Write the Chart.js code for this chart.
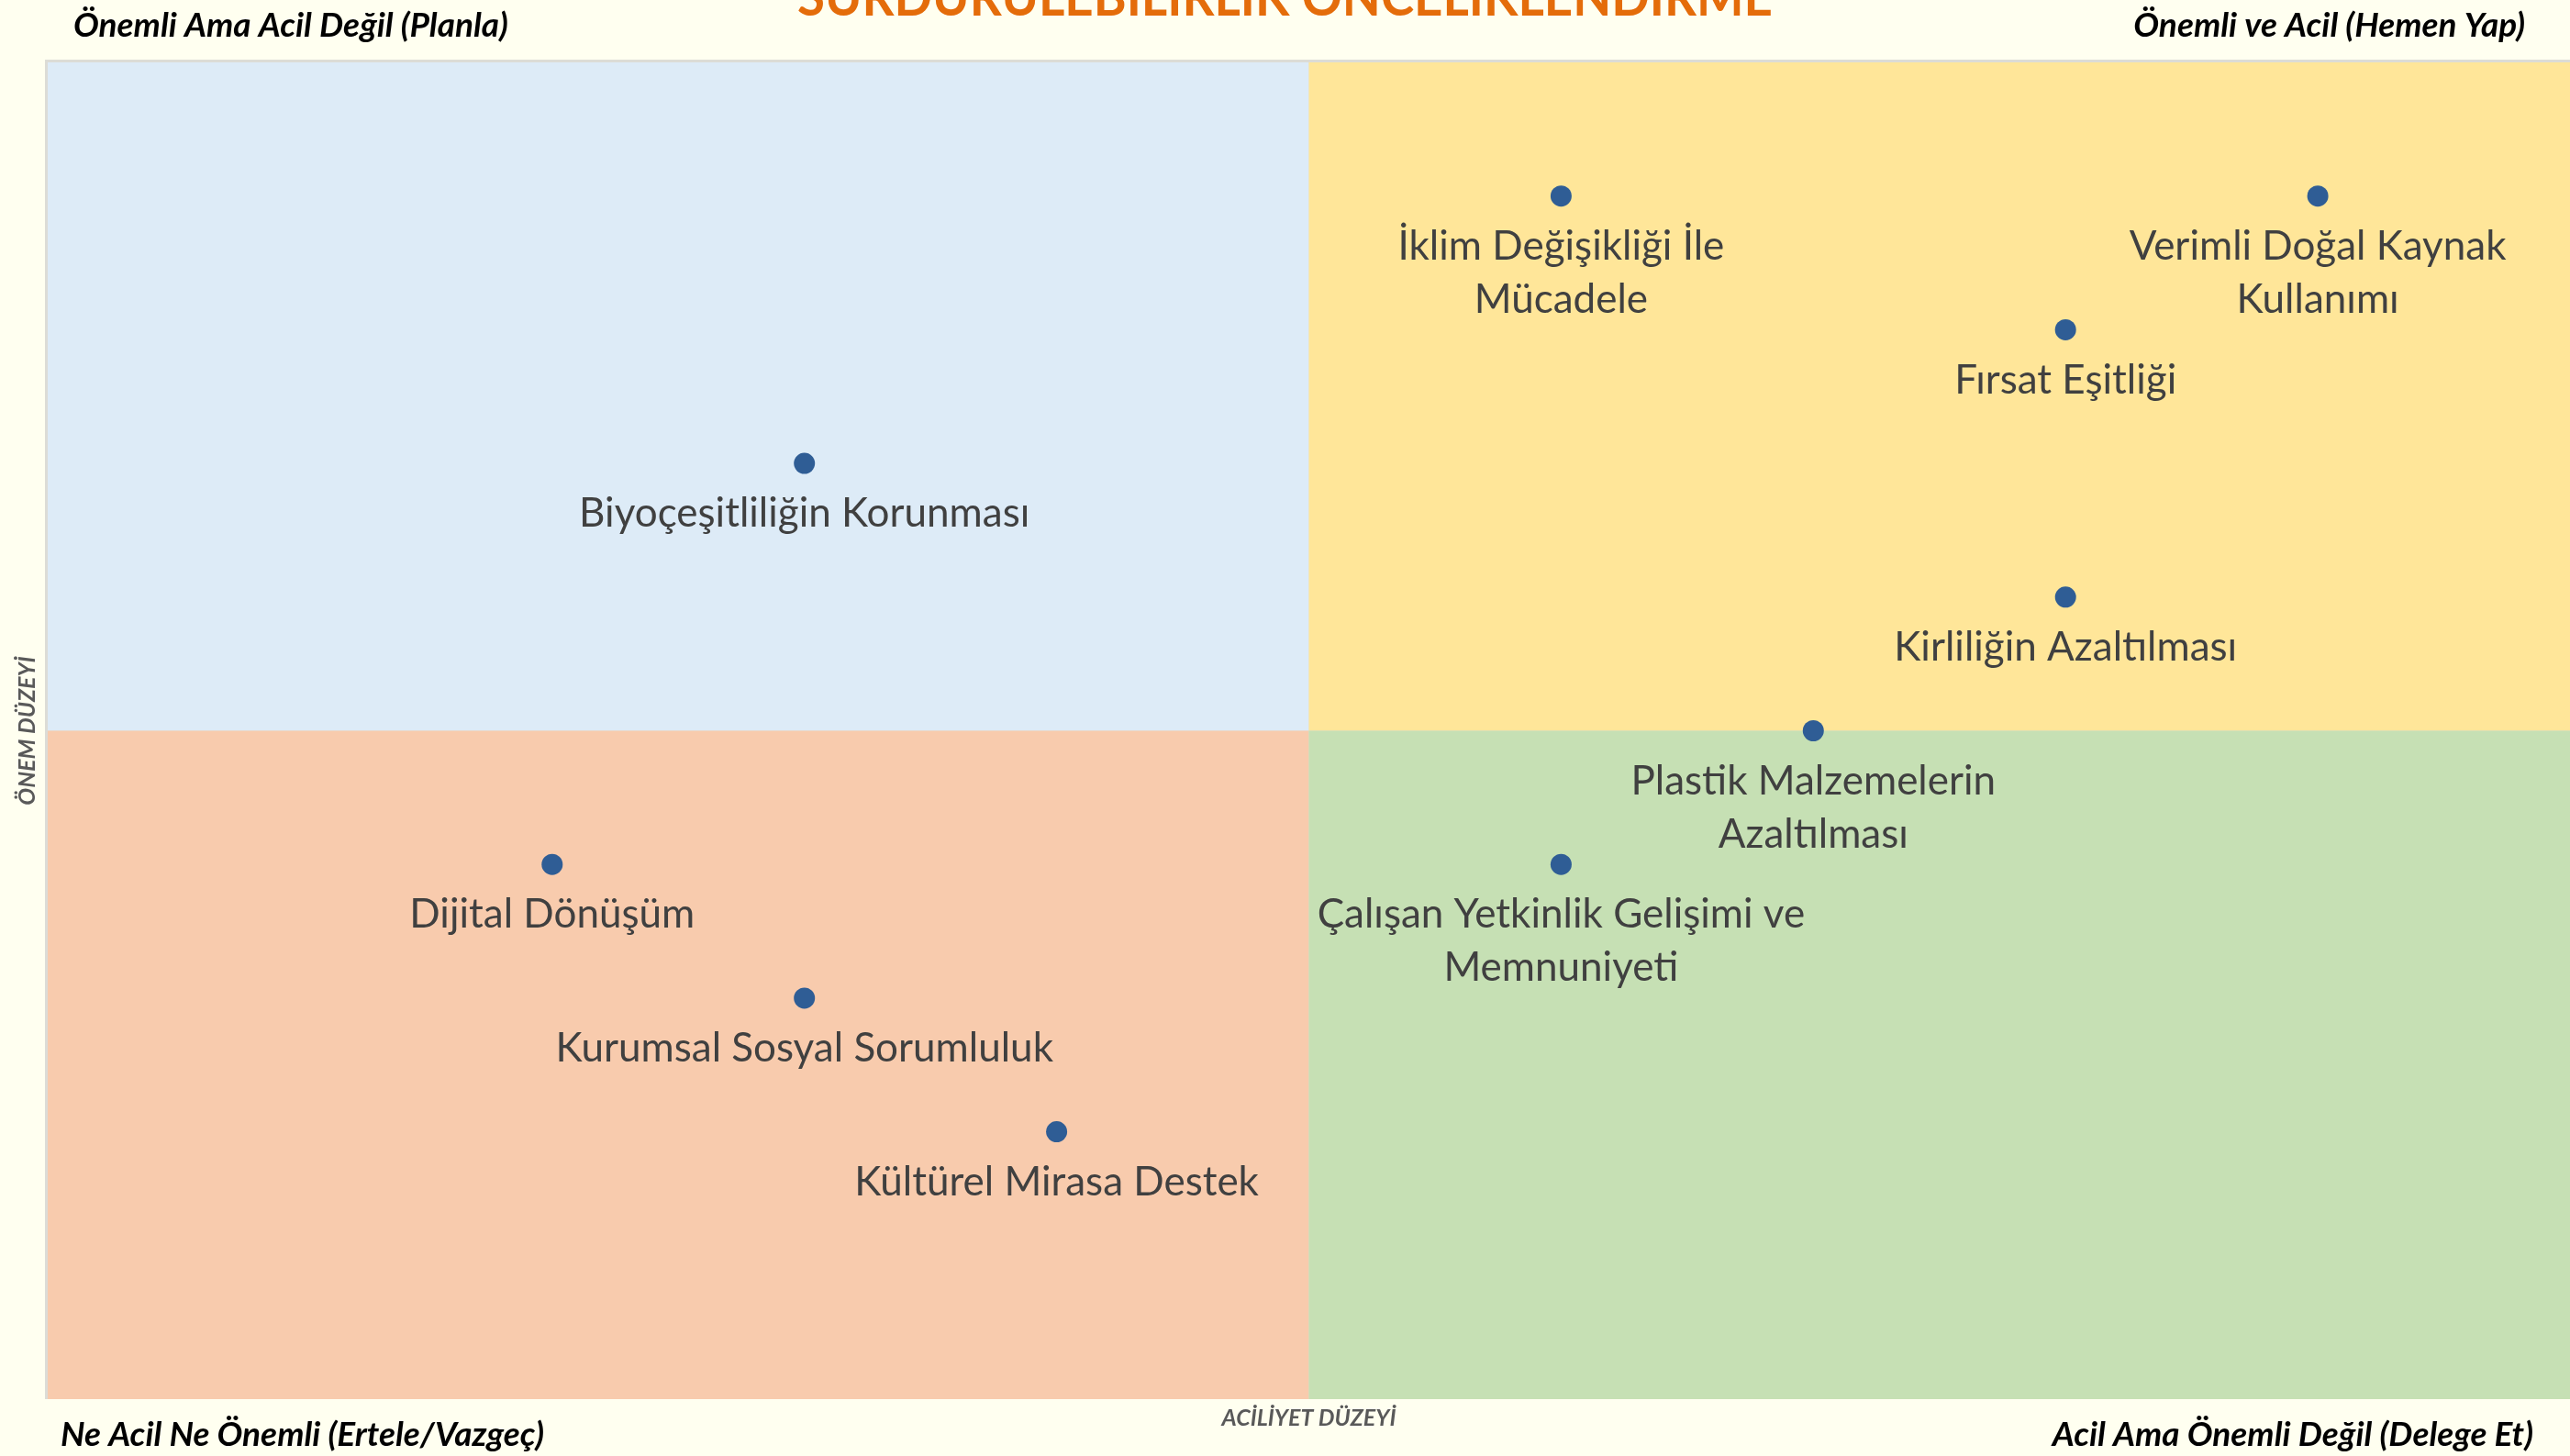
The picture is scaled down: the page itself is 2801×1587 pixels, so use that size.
<!DOCTYPE html>
<html lang="tr">
<head>
<meta charset="utf-8">
<title>Sürdürülebilirlik Önceliklendirme</title>
<script src="https://cdn.jsdelivr.net/npm/chart.js@4/dist/chart.umd.min.js"></script>
<style>
  html, body { margin: 0; padding: 0; background: #FFFFF0; }
  #wrap { position: relative; width: 2801px; height: 1587px; }
</style>
</head>
<body>
<div id="wrap"><canvas id="chart"></canvas></div>
<script>
// topics, one entry per point (lines as shown on the chart)
const topics = [
  ["Biyoçeşitliliğin Korunması"],
  ["İklim Değişikliği İle", "Mücadele"],
  ["Verimli Doğal Kaynak", "Kullanımı"],
  ["Fırsat Eşitliği"],
  ["Kirliliğin Azaltılması"],
  ["Plastik Malzemelerin", "Azaltılması"],
  ["Çalışan Yetkinlik Gelişimi ve", "Memnuniyeti"],
  ["Dijital Dönüşüm"],
  ["Kurumsal Sosyal Sorumluluk"],
  ["Kültürel Mirasa Destek"],
];

const urgency = [3, 6, 9, 8, 8, 7, 6, 2, 3, 4];     // x
const importance = [7, 9, 9, 8, 6, 5, 4, 4, 3, 2];  // y

const axisMin = 0;
const axisMax = 10;
const axisMid = 5;

const chartTitle = "SÜRDÜRÜLEBİLİRLİK ÖNCELİKLENDİRME";
const xTitle = "ACİLİYET DÜZEYİ";
const yTitle = "ÖNEM DÜZEYİ";

const cornerLabels = {
  topLeft: "Önemli Ama Acil Değil (Planla)",
  topRight: "Önemli ve Acil (Hemen Yap)",
  bottomLeft: "Ne Acil Ne Önemli (Ertele/Vazgeç)",
  bottomRight: "Acil Ama Önemli Değil (Delege Et)",
};

const quadrantColors = {
  topLeft: "#DDEBF7",
  topRight: "#FFE699",
  bottomLeft: "#F8CBAD",
  bottomRight: "#C6E0B4",
};

const FONT = "Lato, 'Open Sans', sans-serif";

const quadrants = {
  id: "quadrants",
  beforeDraw(chart) {
    const { ctx, chartArea: a, scales } = chart;
    const mx = scales.x.getPixelForValue(axisMid);
    const my = scales.y.getPixelForValue(axisMid);
    ctx.save();
    ctx.fillStyle = "#FFFFF0";
    ctx.fillRect(0, 0, chart.width, chart.height);
    // soft edge on top / left
    ctx.fillStyle = "#DCDCD6";
    ctx.fillRect(a.left - 3, a.top - 3, a.right - a.left + 3, a.bottom - a.top + 3);
    ctx.fillStyle = quadrantColors.topLeft;
    ctx.fillRect(a.left, a.top, mx - a.left, my - a.top);
    ctx.fillStyle = quadrantColors.topRight;
    ctx.fillRect(mx, a.top, a.right - mx, my - a.top);
    ctx.fillStyle = quadrantColors.bottomLeft;
    ctx.fillRect(a.left, my, mx - a.left, a.bottom - my);
    ctx.fillStyle = quadrantColors.bottomRight;
    ctx.fillRect(mx, my, a.right - mx, a.bottom - my);
    ctx.restore();
  },
  afterDraw(chart) {
    const { ctx, chartArea: a } = chart;
    ctx.save();
    // title, mostly cut off at the top edge
    ctx.fillStyle = "#E46C0A";
    ctx.font = "bold 58px " + FONT;
    ctx.textAlign = "center";
    ctx.textBaseline = "alphabetic";
    ctx.fillText(chartTitle, chart.width / 2, 17, 1063);

    ctx.fillStyle = "#000000";
    ctx.font = "italic bold 37px " + FONT;
    ctx.textAlign = "left";
    ctx.fillText(cornerLabels.topLeft, a.left + 28, a.top - 28);
    ctx.fillText(cornerLabels.bottomLeft, a.left + 14, a.bottom + 51);
    ctx.textAlign = "right";
    ctx.fillText(cornerLabels.topRight, a.right - 49, a.top - 28);
    ctx.fillText(cornerLabels.bottomRight, a.right - 40, a.bottom + 51);
    ctx.restore();
  },
};

const pointLabels = {
  id: "pointLabels",
  afterDatasetsDraw(chart) {
    const { ctx } = chart;
    const meta = chart.getDatasetMeta(0);
    ctx.save();
    ctx.fillStyle = "#404040";
    ctx.font = "44px " + FONT;
    ctx.textAlign = "center";
    ctx.textBaseline = "middle";
    meta.data.forEach((pt, i) => {
      topics[i].forEach((line, k) => {
        ctx.fillText(line, pt.x, pt.y + 55 + k * 58);
      });
    });
    ctx.restore();
  },
};

new Chart(document.getElementById("chart"), {
  type: "scatter",
  data: {
    datasets: [
      {
        data: urgency.map((u, i) => ({ x: u, y: importance[i] })),
        backgroundColor: "#2F5D95",
        borderWidth: 0,
        pointRadius: 11.5,
      },
    ],
  },
  options: {
    responsive: true,
    maintainAspectRatio: false,
    animation: false,
    events: [],
    layout: {
      autoPadding: false,
      padding: { top: 68, right: 0, bottom: 21, left: 0 },
    },
    plugins: {
      legend: { display: false },
      tooltip: { enabled: false },
    },
    scales: {
      x: {
        min: axisMin,
        max: axisMax,
        ticks: { display: false },
        grid: { display: false, drawTicks: false },
        border: { display: false },
        title: {
          display: true,
          text: xTitle,
          color: "#595959",
          font: { family: FONT, size: 25, style: "italic", weight: "bold", lineHeight: 1.2 },
          padding: { top: 6, bottom: 5 },
        },
      },
      y: {
        min: axisMin,
        max: axisMax,
        ticks: { display: false },
        grid: { display: false, drawTicks: false },
        border: { display: false },
        title: {
          display: true,
          text: yTitle,
          color: "#595959",
          font: { family: FONT, size: 25, style: "italic", weight: "bold", lineHeight: 1.2 },
          padding: { top: 15, bottom: 7 },
        },
      },
    },
  },
  plugins: [quadrants, pointLabels],
});
</script>
</body>
</html>
